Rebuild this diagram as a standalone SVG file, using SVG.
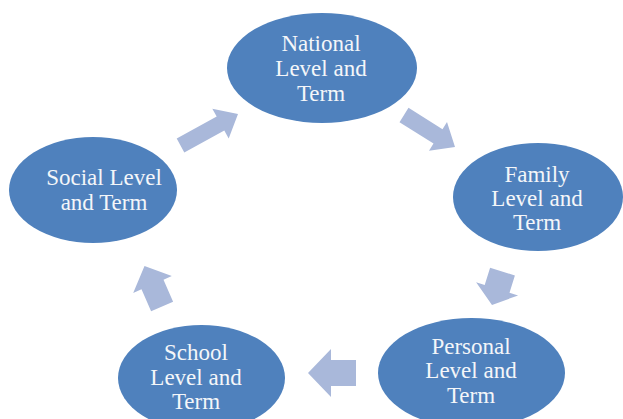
<svg xmlns="http://www.w3.org/2000/svg" width="623" height="419" viewBox="0 0 623 419">
<style>
.node ellipse{fill:#4f81bd;}
.node text{font-family:"Liberation Serif","Times New Roman",serif;font-size:23px;fill:#f4f6f9;text-anchor:middle;}
.arrow{fill:#a9b8da;}
</style>
<rect x="0" y="0" width="623" height="419" fill="#ffffff"/>
<g id="connectors">
<polygon class="arrow" points="176.7,138.5 216.7,116.6 212.3,108.7 238,114 228.7,138.5 224.3,130.6 184.3,152.5"/>
<polygon class="arrow" points="408.5,107.8 442.5,129.2 447,122 455,147 429,150.8 433.5,143.6 399.5,122.2"/>
<polygon class="arrow" points="490.1,267.7 514.9,275.5 509.5,292.7 518.1,295.4 492,305 476.1,282.2 484.7,284.9"/>
<polygon class="arrow" points="356,360 331,360 331,349 308,373 331,397 331,386 356,386"/>
<polygon class="arrow" points="151.1,311.3 141.5,289.3 133.2,292.9 144.5,266.1 171.8,276.1 163.5,279.7 173.1,301.7"/>
</g>
<g id="national" class="node">
<ellipse cx="322" cy="68" rx="95" ry="55"/>
<text x="321" y="51">National</text>
<text x="321" y="76">Level and</text>
<text x="321" y="101">Term</text>
</g>
<g id="social" class="node">
<ellipse cx="93" cy="190" rx="84" ry="53"/>
<text x="104" y="185">Social Level</text>
<text x="104" y="210">and Term</text>
</g>
<g id="family" class="node">
<ellipse cx="538" cy="197" rx="85" ry="54"/>
<text x="537" y="182">Family</text>
<text x="537" y="206">Level and</text>
<text x="537" y="230">Term</text>
</g>
<g id="personal" class="node">
<ellipse cx="471.5" cy="373" rx="93.5" ry="55"/>
<text x="471" y="354">Personal</text>
<text x="471" y="378">Level and</text>
<text x="471" y="403">Term</text>
</g>
<g id="school" class="node">
<ellipse cx="201.5" cy="378" rx="83.5" ry="53"/>
<text x="196" y="360">School</text>
<text x="196" y="385">Level and</text>
<text x="196" y="409">Term</text>
</g>
</svg>
